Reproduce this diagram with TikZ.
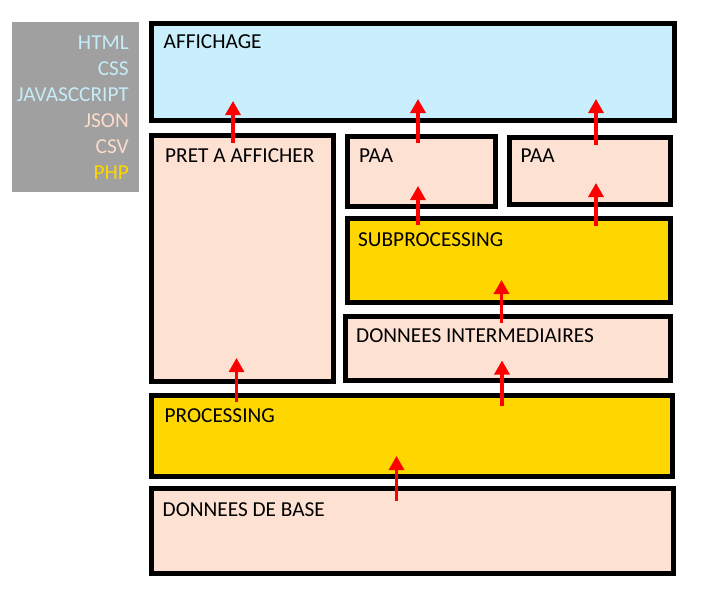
\documentclass[tikz,border=0pt]{standalone}
\usepackage{fontspec}
\setmainfont{Carlito}
\usetikzlibrary{arrows.meta}
\definecolor{skyfill}{HTML}{C9EFFD}
\definecolor{peach}{HTML}{FDE1D3}
\definecolor{gold}{HTML}{FFD700}
\definecolor{legendgray}{HTML}{A0A0A0}
\definecolor{skytext}{HTML}{C5ECF8}
\definecolor{peachtext}{HTML}{FBDCCB}
\definecolor{arrowred}{HTML}{FF0000}
\begin{document}
\begin{tikzpicture}[x=1pt,y=-1pt,
  box/.style={draw=black,line width=5pt,rectangle,inner sep=0pt,outer sep=0pt,anchor=north west},
  lbl/.style={anchor=base west,inner sep=0pt,font=\fontsize{21.3}{25}\selectfont},
  leg/.style={anchor=base east,inner sep=0pt,font=\fontsize{21.3}{25}\selectfont},
  arr/.style={draw=arrowred,line width=3.2pt,-{Triangle[width=15pt,length=14pt]}}]
\useasboundingbox (0,0) rectangle (724,600);
% legend
\node[fill=legendgray,inner sep=0pt,minimum width=127pt,minimum height=170pt,anchor=north west] (legend) at (12,22) {};
\node[leg,text=skytext] (lhtml) at (129,49.5) {HTML};
\node[leg,text=skytext] (lcss) at (129,75) {CSS};
\node[leg,text=skytext] (ljs) at (129,101) {JAVASCCRIPT};
\node[leg,text=peachtext] (ljson) at (129,127.5) {JSON};
\node[leg,text=peachtext] (lcsv) at (129,153) {CSV};
\node[leg,text=gold] (lphp) at (129,179) {PHP};
% boxes
\node[box,fill=skyfill,minimum width=523pt,minimum height=97pt] (aff) at (151.5,23.5) {};
\node[box,fill=peach,minimum width=182pt,minimum height=246pt] (pret) at (151.5,135.5) {};
\node[box,fill=peach,minimum width=148pt,minimum height=70pt] (paa1) at (347.5,136.5) {};
\node[box,fill=peach,minimum width=161pt,minimum height=67pt] (paa2) at (509.5,137.5) {};
\node[box,fill=gold,minimum width=323pt,minimum height=84pt] (sub) at (347.5,218.5) {};
\node[box,fill=peach,minimum width=325pt,minimum height=64pt] (di) at (345.5,316.5) {};
\node[box,fill=gold,minimum width=520.5pt,minimum height=80.5pt] (proc) at (151.5,395.5) {};
\node[box,fill=peach,minimum width=522pt,minimum height=85pt] (db) at (151.5,488.5) {};
% labels
\node[lbl] (taff) at (163.5,48.5) {AFFICHAGE};
\node[lbl] (tpret) at (165,162) {PRET A AFFICHER};
\node[lbl] (tpaa1) at (359,162.5) {PAA};
\node[lbl] (tpaa2) at (520.5,162.5) {PAA};
\node[lbl] (tsub) at (358,246) {SUBPROCESSING};
\node[lbl] (tdi) at (356,342.5) {DONNEES INTERMEDIAIRES};
\node[lbl] (tproc) at (164.5,422) {PROCESSING};
\node[lbl] (tdb) at (162.5,516.5) {DONNEES DE BASE};
% arrow ends
\coordinate (a1s) at (233,143); \coordinate (a1e) at (233,101);
\coordinate (a2s) at (418,143); \coordinate (a2e) at (418,99);
\coordinate (a3s) at (596,145); \coordinate (a3e) at (596,99);
\coordinate (a4s) at (418,225); \coordinate (a4e) at (418,186);
\coordinate (a5s) at (596,226); \coordinate (a5e) at (596,183);
\coordinate (a6s) at (501.5,323); \coordinate (a6e) at (501.5,280);
\coordinate (a7s) at (502,406); \coordinate (a7e) at (502,360.5);
\coordinate (a8s) at (236.5,402); \coordinate (a8e) at (236.5,358);
\coordinate (a9s) at (396.5,501); \coordinate (a9e) at (396.5,456);
\draw[arr] (a1s) -- (a1e);
\draw[arr] (a2s) -- (a2e);
\draw[arr] (a3s) -- (a3e);
\draw[arr] (a4s) -- (a4e);
\draw[arr] (a5s) -- (a5e);
\draw[arr] (a6s) -- (a6e);
\draw[arr] (a7s) -- (a7e);
\draw[arr] (a8s) -- (a8e);
\draw[arr] (a9s) -- (a9e);
\end{tikzpicture}
\end{document}
